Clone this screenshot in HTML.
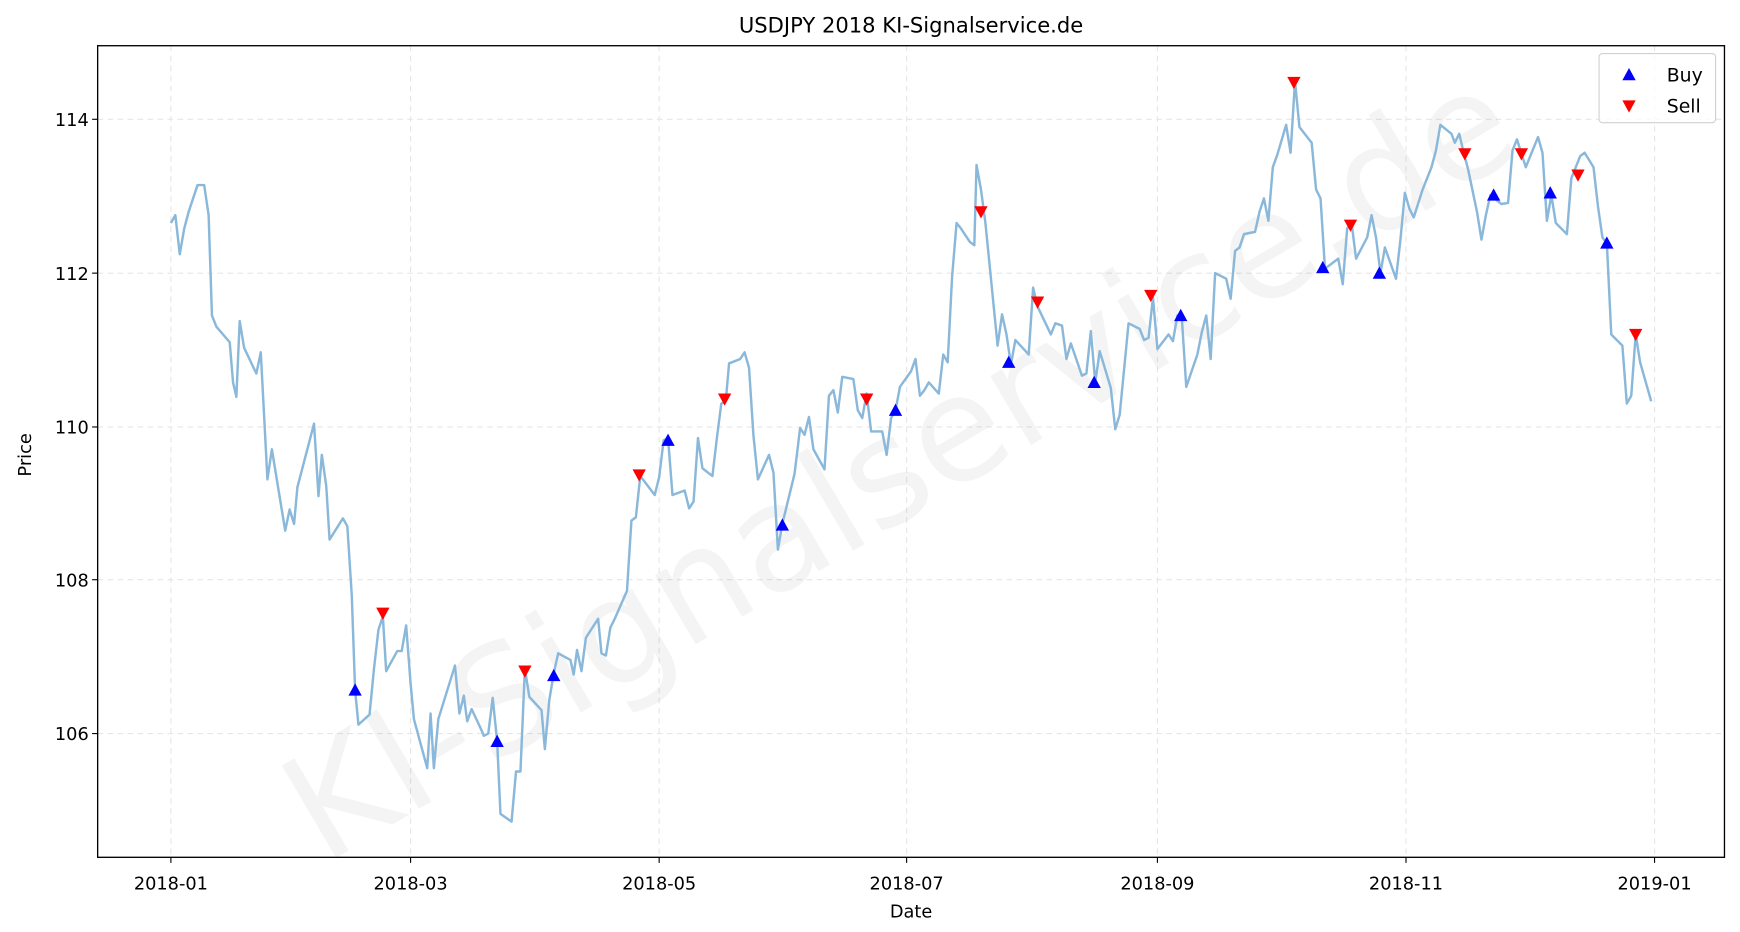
<!DOCTYPE html>
<html><head><meta charset="utf-8"><style>html,body{margin:0;padding:0;background:#fff}svg{display:block}</style></head>
<body>
<svg width="1740" height="932" viewBox="0 0 1568 836" preserveAspectRatio="none" xmlns="http://www.w3.org/2000/svg" font-family="'DejaVu Sans','Liberation Sans',sans-serif">
<rect width="1568" height="836" fill="#fff"/>
<g stroke="#e6e6e6" stroke-dasharray="5,4" stroke-width="1">
<line x1="154" y1="41" x2="154" y2="769"/><line x1="370" y1="41" x2="370" y2="769"/><line x1="594" y1="41" x2="594" y2="769"/><line x1="817" y1="41" x2="817" y2="769"/><line x1="1043" y1="41" x2="1043" y2="769"/><line x1="1267" y1="41" x2="1267" y2="769"/><line x1="1491" y1="41" x2="1491" y2="769"/>
<line x1="88" y1="107" x2="1554" y2="107"/><line x1="88" y1="245" x2="1554" y2="245"/><line x1="88" y1="383" x2="1554" y2="383"/><line x1="88" y1="520" x2="1554" y2="520"/><line x1="88" y1="658" x2="1554" y2="658"/>
</g>
<text x="815" y="425" font-size="132" fill="#000" fill-opacity="0.045" text-anchor="middle" dominant-baseline="middle" transform="rotate(-30.6 815 425)">KI-Signalservice.de</text>
<polyline fill="none" stroke="#8ab8da" stroke-width="2.2" stroke-linejoin="round" points="154,200 158,193 162,228 166,205 170,190 178,166 180,166 184,166 188,193 191,283 195,293 207,307 210,343 213,356 216,288 220,312 231,335 235,316 241,430 245,403 257,476 261,457 265,470 268,437 283,380 287,445 290,408 294,436 297,484 309,465 313,472 317,534 320,619 323,650 333,641 337,600 341,565 345,553 348,602 358,584 362,584 366,561 370,613 373,645 385,689 388,640 391,689 395,645 410,597 414,640 418,624 421,647 425,636 433,653 436,660 440,658 444,626 448,665 451,730 461,737 465,692 469,692 473,600 477,625 488,637 491,672 495,628 499,604 503,586 514,592 517,605 520,583 524,602 528,572 539,555 542,586 546,588 550,563 554,555 565,530 569,467 573,464 577,427 590,444 594,428 598,395 602,393 606,444 617,440 621,456 625,450 629,393 633,420 642,427 646,393 650,362 654,360 657,326 667,322 671,316 675,330 679,391 683,430 693,408 697,424 701,493 705,470 716,425 721,384 725,390 729,374 733,403 743,421 747,355 751,350 755,370 759,338 769,340 773,368 777,375 781,353 785,387 795,387 799,408 803,375 807,368 811,347 821,333 825,322 829,355 833,350 837,343 846,353 850,318 854,325 858,248 862,200 866,205 874,217 878,220 880,148 884,170 888,200 899,310 903,282 907,300 911,327 915,305 927,318 931,258 935,275 947,300 951,290 957,292 961,322 965,308 975,337 979,335 983,297 987,343 991,315 1001,348 1005,385 1009,372 1017,290 1027,295 1031,305 1035,303 1039,267 1043,313 1053,300 1057,306 1061,283 1065,285 1069,347 1079,318 1083,298 1087,283 1091,322 1095,245 1105,250 1109,268 1113,225 1117,222 1121,210 1131,208 1135,190 1139,178 1143,198 1147,150 1151,139 1159,112 1163,137 1167,73 1171,114 1182,128 1186,170 1190,178 1194,241 1206,232 1210,255 1214,205 1218,200 1222,232 1232,213 1236,193 1240,213 1244,245 1248,222 1258,250 1262,215 1266,173 1270,187 1274,195 1282,170 1290,150 1294,135 1298,112 1308,120 1311,128 1315,120 1319,137 1323,152 1331,190 1335,215 1339,193 1343,175 1353,183 1359,182 1363,135 1367,125 1375,150 1379,140 1386,123 1390,137 1394,198 1398,175 1402,200 1412,210 1416,160 1420,150 1424,140 1428,137 1436,150 1440,185 1444,213 1448,218 1452,300 1462,310 1466,362 1470,355 1474,300 1478,325 1488,360"/>
<g fill="#0000ff">
<path d="M0,-6 L6,5 L-6,5 Z" transform="translate(320,619)"/>
<path d="M0,-6 L6,5 L-6,5 Z" transform="translate(448,665)"/><path d="M0,-6 L6,5 L-6,5 Z" transform="translate(499,606)"/><path d="M0,-6 L6,5 L-6,5 Z" transform="translate(602,395)"/><path d="M0,-6 L6,5 L-6,5 Z" transform="translate(705,471)"/><path d="M0,-6 L6,5 L-6,5 Z" transform="translate(807,368)"/><path d="M0,-6 L6,5 L-6,5 Z" transform="translate(909,325)"/><path d="M0,-6 L6,5 L-6,5 Z" transform="translate(986,343)"/><path d="M0,-6 L6,5 L-6,5 Z" transform="translate(1064,283)"/><path d="M0,-6 L6,5 L-6,5 Z" transform="translate(1192,240)"/><path d="M0,-6 L6,5 L-6,5 Z" transform="translate(1243,245)"/><path d="M0,-6 L6,5 L-6,5 Z" transform="translate(1346,175)"/><path d="M0,-6 L6,5 L-6,5 Z" transform="translate(1397,173)"/><path d="M0,-6 L6,5 L-6,5 Z" transform="translate(1448,218)"/>
</g>
<g fill="#ff0000">
<path d="M0,6 L6,-5 L-6,-5 Z" transform="translate(345,550)"/><path d="M0,6 L6,-5 L-6,-5 Z" transform="translate(473,602)"/><path d="M0,6 L6,-5 L-6,-5 Z" transform="translate(576,426)"/><path d="M0,6 L6,-5 L-6,-5 Z" transform="translate(653,358)"/><path d="M0,6 L6,-5 L-6,-5 Z" transform="translate(781,358)"/><path d="M0,6 L6,-5 L-6,-5 Z" transform="translate(884,190)"/><path d="M0,6 L6,-5 L-6,-5 Z" transform="translate(935,271)"/><path d="M0,6 L6,-5 L-6,-5 Z" transform="translate(1037,265)"/><path d="M0,6 L6,-5 L-6,-5 Z" transform="translate(1166,74)"/><path d="M0,6 L6,-5 L-6,-5 Z" transform="translate(1217,202)"/><path d="M0,6 L6,-5 L-6,-5 Z" transform="translate(1320,138)"/><path d="M0,6 L6,-5 L-6,-5 Z" transform="translate(1371,138)"/><path d="M0,6 L6,-5 L-6,-5 Z" transform="translate(1422,157)"/><path d="M0,6 L6,-5 L-6,-5 Z" transform="translate(1474,300)"/>
</g>
<rect x="88" y="41" width="1466" height="728" fill="none" stroke="#000" stroke-width="1.2"/>
<rect x="1441" y="48" width="105" height="62" rx="3" fill="#fff" fill-opacity="0.8" stroke="#d0d0d0"/>
<path d="M0,-6 L6,5 L-6,5 Z" transform="translate(1468,67)" fill="#0000ff"/>
<path d="M0,6 L6,-5 L-6,-5 Z" transform="translate(1468,95)" fill="#ff0000"/>
<text x="1502" y="73" font-size="17">Buy</text>
<text x="1502" y="101" font-size="17">Sell</text>
<g font-size="16" text-anchor="end">
<text x="80" y="113">114</text><text x="80" y="251">112</text><text x="80" y="389">110</text><text x="80" y="526">108</text><text x="80" y="664">106</text>
</g>
<g stroke="#000"><line x1="83" y1="107" x2="88" y2="107"/><line x1="83" y1="245" x2="88" y2="245"/><line x1="83" y1="383" x2="88" y2="383"/><line x1="83" y1="520" x2="88" y2="520"/><line x1="83" y1="658" x2="88" y2="658"/>
<line x1="154" y1="769" x2="154" y2="774"/><line x1="370" y1="769" x2="370" y2="774"/><line x1="594" y1="769" x2="594" y2="774"/><line x1="817" y1="769" x2="817" y2="774"/><line x1="1043" y1="769" x2="1043" y2="774"/><line x1="1267" y1="769" x2="1267" y2="774"/><line x1="1491" y1="769" x2="1491" y2="774"/></g>
<g font-size="16" text-anchor="middle">
<text x="154" y="798">2018-01</text><text x="370" y="798">2018-03</text><text x="594" y="798">2018-05</text><text x="817" y="798">2018-07</text><text x="1043" y="798">2018-09</text><text x="1267" y="798">2018-11</text><text x="1491" y="798">2019-01</text>
<text x="821" y="823">Date</text>
<text x="821" y="29" font-size="19">USDJPY 2018 KI-Signalservice.de</text>
<text transform="translate(28,408) rotate(-90)">Price</text>
</g>
</svg>
</body></html>
